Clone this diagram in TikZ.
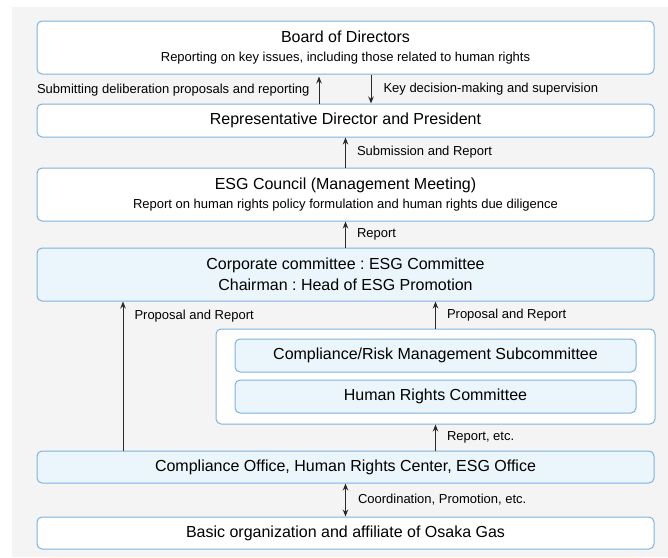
\documentclass[tikz,border=0pt]{standalone}
\usepackage{fontspec}
\setmainfont{Liberation Sans}
\usetikzlibrary{arrows.meta}
\frenchspacing

\definecolor{boxline}{HTML}{7DB3E0}
\definecolor{boxfill}{HTML}{EBF5FC}
\definecolor{backgr}{HTML}{F4F4F4}
\definecolor{arrowc}{HTML}{2A2A2A}
\newcommand{\titlefont}{\fontsize{16}{20}\selectfont}
\newcommand{\notefont}{\fontsize{13}{16}\selectfont}

\begin{document}
\begin{tikzpicture}[x=1pt,y=-1pt,
    box/.style={draw=boxline, line width=1pt, rounded corners=5pt, fill=white,
      align=center, inner sep=0pt, font=\titlefont},
    bluebox/.style={box, fill=boxfill},
    flow/.style={-{Stealth[length=7pt,width=5.5pt]}, draw=arrowc, line width=1pt},
    lab/.style={font=\notefont, inner sep=0pt, text=black}]
  \useasboundingbox (0,0) rectangle (668,557);
  \fill[backgr] (12,7) rectangle (668,557);

  % boxes, top to bottom
  \node[box, minimum width=617pt, minimum height=53pt] (board) at (345.5,47.5)
    {Board of Directors\\[-1pt]{\notefont Reporting on key issues, including those related to human rights}};
  \node[box, minimum width=617pt, minimum height=33pt] (rep) at (345.5,120.5)
    {Representative Director and President};
  \node[box, minimum width=617pt, minimum height=53pt] (esg) at (345.5,194.5)
    {ESG Council (Management Meeting)\\[-1pt]{\notefont Report on human rights policy formulation and human rights due diligence}};
  \node[bluebox, minimum width=617pt, minimum height=53pt] (corp) at (345.5,274.5)
    {Corporate committee : ESG Committee\\[1pt]Chairman : Head of ESG Promotion};
  \node[box, minimum width=439pt, minimum height=95pt] (group) at (435.5,376.5) {};
  \node[bluebox, minimum width=401pt, minimum height=33pt] (subc) at (435.5,355.5)
    {Compliance/Risk Management Subcommittee};
  \node[bluebox, minimum width=401pt, minimum height=33pt] (hrc) at (435.5,396.5)
    {Human Rights Committee};
  \node[bluebox, minimum width=617pt, minimum height=32pt] (office) at (345.5,467)
    {Compliance Office, Human Rights Center, ESG Office};
  \node[box, minimum width=617pt, minimum height=32pt] (basic) at (345.5,533)
    {Basic organization and affiliate of Osaka Gas};

  % connectors
  \draw[flow] ([xshift=-26.5pt]rep.north) -- ([xshift=-26.5pt,yshift=-2pt]board.south)
    node[midway, left=9pt, lab] {Submitting deliberation proposals and reporting};
  \draw[flow] ([xshift=25.5pt]board.south) -- ([xshift=25.5pt]rep.north)
    node[midway, right=12pt, lab] {Key decision-making and supervision};
  \draw[flow] (esg.north) -- (rep.south)
    node[midway, right=11pt, lab] {Submission and Report};
  \draw[flow] (corp.north) -- (esg.south)
    node[midway, right=11pt, lab] {Report};
  \draw[flow] ([xshift=-222.5pt]office.north) -- ([xshift=-222.5pt]corp.south)
    node[pos=0.9, right=11pt, lab] {Proposal and Report};
  \draw[flow] (group.north) -- (group.north |- corp.south)
    node[midway, right=11pt, lab] {Proposal and Report};
  \draw[flow] (group.south |- office.north) -- (group.south)
    node[midway, right=11pt, lab] {Report, etc.};
  \draw[flow, {Stealth[length=7pt,width=5.5pt]}-{Stealth[length=7pt,width=5.5pt]}] (office.south) -- (basic.north)
    node[midway, right=12pt, lab] {Coordination, Promotion, etc.};
\end{tikzpicture}
\end{document}
